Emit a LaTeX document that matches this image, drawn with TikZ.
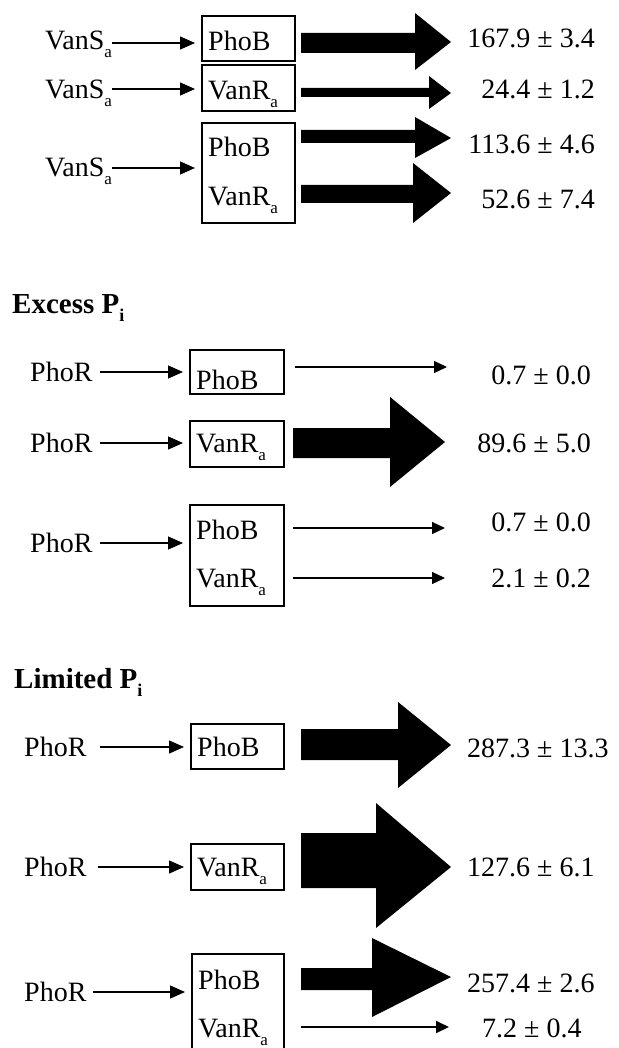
\documentclass[tikz,border=0pt]{standalone}
\usepackage{fontspec}
\setmainfont{Liberation Serif}
\usetikzlibrary{arrows.meta}
\newcommand\lbl[2]{#1\raisebox{-8pt}{\fontsize{17}{17}\selectfont #2}}
\newcommand\fatarr[8]{\fill (#1,#2) -- (#4,#2) -- (#4,#5) -- (#7,#8) -- (#4,#6) -- (#4,#3) -- (#1,#3) -- cycle;}
\begin{document}
\begin{tikzpicture}[x=1pt,y=-1pt,
  every node/.style={font=\fontsize{28}{30}\selectfont, inner sep=0pt},
  txt/.style={anchor=base west},
  num/.style={anchor=base east},
  numl/.style={anchor=base west},
  hdr/.style={anchor=base west, font=\fontsize{29}{31}\selectfont\bfseries},
  boxr/.style={draw, line width=1.6pt, anchor=north west},
  conn/.style={line width=1.2pt, -{Triangle[length=15pt,width=13pt]}, shorten >=6pt},
  thinarr/.style={line width=1.2pt, -{Triangle[length=13pt,width=12pt]}}]
\useasboundingbox (0,0) rectangle (618,1048);
\clip (0,0) rectangle (618,1048);
\fill[white] (0,0) rectangle (618,1048);

% ---------- Section A ----------
\node[txt] (la1) at (45,50) {\lbl{VanS}{a}};
\node[boxr, minimum width=93pt, minimum height=45pt] (ba1) at (201,15) {};
\node[txt] (ta1) at (208,51) {PhoB};
\coordinate (sa1) at (112,43);
\draw[conn] (sa1) -- (sa1 -| ba1.west);
\fatarr{301}{33}{53}{415}{13}{70}{451}{42}
\node[num] (na1) at (595,48) {167.9 ± 3.4};

\node[txt] (la2) at (45,99) {\lbl{VanS}{a}};
\node[boxr, minimum width=93pt, minimum height=46pt] (ba2) at (201,64) {};
\node[txt] (ta2) at (208,100) {\lbl{VanR}{a}};
\coordinate (sa2) at (112,89);
\draw[conn] (sa2) -- (sa2 -| ba2.west);
\fatarr{301}{88}{97}{429}{76}{109}{451}{93}
\node[num] (na2) at (595,99) {24.4 ± 1.2};

\node[txt] (la3) at (45,177) {\lbl{VanS}{a}};
\node[boxr, minimum width=93pt, minimum height=100pt] (ba3) at (201,122) {};
\node[txt] (ta3) at (208,157) {PhoB};
\node[txt] (ta4) at (208,206) {\lbl{VanR}{a}};
\coordinate (sa3) at (112,168);
\draw[conn] (sa3) -- (sa3 -| ba3.west);
\fatarr{301}{130}{143}{415}{117}{158}{451}{138}
\fatarr{301}{185}{203}{413}{163}{223}{451}{193}
\node[num] (na3) at (595,154) {113.6 ± 4.6};
\node[num] (na4) at (595,209) {52.6 ± 7.4};

% ---------- Section B ----------
\node[hdr] (hb) at (12,313) {Excess P\raisebox{-8pt}{\fontsize{18}{18}\selectfont i}};

\node[txt] (lb1) at (30,381) {PhoR};
\node[boxr, minimum width=94pt, minimum height=44pt] (bb1) at (189,349) {};
\node[txt] (tb1) at (196,389) {PhoB};
\coordinate (sb1) at (100,372);
\draw[conn] (sb1) -- (sb1 -| bb1.west);
\coordinate (ob1) at (295,367);
\coordinate (eb1) at (447,367);
\draw[thinarr] (ob1) -- (eb1);
\node[num] (nb1) at (591,384) {0.7 ± 0.0};

\node[txt] (lb2) at (30,452) {PhoR};
\node[boxr, minimum width=94pt, minimum height=46pt] (bb2) at (189,420) {};
\node[txt] (tb2) at (196,452) {\lbl{VanR}{a}};
\coordinate (sb2) at (100,443);
\draw[conn] (sb2) -- (sb2 -| bb2.west);
\fatarr{293}{428}{458}{390}{397}{487}{445}{442}
\node[num] (nb2) at (591,452) {89.6 ± 5.0};

\node[txt] (lb3) at (30,552) {PhoR};
\node[boxr, minimum width=94pt, minimum height=101pt] (bb3) at (189,504) {};
\node[txt] (tb3) at (196,539) {PhoB};
\node[txt] (tb4) at (196,587) {\lbl{VanR}{a}};
\coordinate (sb3) at (100,543);
\draw[conn] (sb3) -- (sb3 -| bb3.west);
\coordinate (ob3) at (293,528);
\coordinate (eb3) at (445,528);
\draw[thinarr] (ob3) -- (eb3);
\coordinate (ob4) at (293,578);
\coordinate (eb4) at (445,578);
\draw[thinarr] (ob4) -- (eb4);
\node[num] (nb3) at (591,531) {0.7 ± 0.0};
\node[num] (nb4) at (591,587) {2.1 ± 0.2};

% ---------- Section C ----------
\node[hdr] (hc) at (14,688) {Limited P\raisebox{-8pt}{\fontsize{18}{18}\selectfont i}};

\node[txt] (lc1) at (24,756) {PhoR};
\node[boxr, minimum width=93pt, minimum height=45pt] (bc1) at (190,723) {};
\node[txt] (tc1) at (197,756) {PhoB};
\coordinate (sc1) at (100,747);
\draw[conn] (sc1) -- (sc1 -| bc1.west);
\fatarr{301}{729}{760}{398}{702}{788}{451}{745}
\node[numl] (nc1) at (467,757) {287.3 ± 13.3};

\node[txt] (lc2) at (24,876) {PhoR};
\node[boxr, minimum width=93pt, minimum height=46pt] (bc2) at (190,843) {};
\node[txt] (tc2) at (197,876) {\lbl{VanR}{a}};
\coordinate (sc2) at (98,867);
\draw[conn] (sc2) -- (sc2 -| bc2.west);
\fatarr{301}{833}{888}{376}{803}{928}{451}{867}
\node[numl] (nc2) at (467,876) {127.6 ± 6.1};

\node[txt] (lc3) at (24,1001) {PhoR};
\node[boxr, minimum width=92pt, minimum height=110pt] (bc3) at (191,953) {};
\node[txt] (tc3) at (198,989) {PhoB};
\node[txt] (tc4) at (198,1037) {\lbl{VanR}{a}};
\coordinate (sc3) at (93,992);
\draw[conn] (sc3) -- (sc3 -| bc3.west);
\fatarr{301}{968}{990}{372}{938}{1017}{451}{977}
\coordinate (oc4) at (301,1027);
\coordinate (ec4) at (449,1027);
\draw[thinarr, line width=2pt] (oc4) -- (ec4);
\node[numl] (nc3) at (467,992) {257.4 ± 2.6};
\node[numl] (nc4) at (482,1037) {7.2 ± 0.4};
\end{tikzpicture}
\end{document}
